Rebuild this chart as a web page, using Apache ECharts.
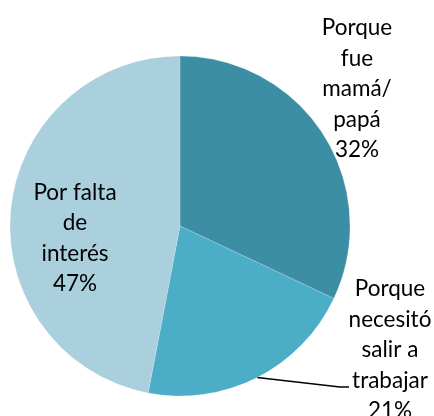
<!DOCTYPE html>
<html>
<head>
<meta charset="utf-8">
<script src="https://cdn.jsdelivr.net/npm/echarts@6/dist/echarts.min.js"></script>
<style>
  html, body { margin: 0; padding: 0; background: #fff; }
  #chart { width: 434px; height: 416px; }
</style>
</head>
<body>
<div id="chart"></div>
<script>
// motivos y porcentajes, en el orden de las agujas del reloj desde arriba
const categories = ['Porque\nfue\nmamá/\npapá', 'Porque\nnecesitó\nsalir a\ntrabajar', 'Por falta\nde\ninterés']
const values = [32, 21, 47]
const colors = ['#3C8EA5', '#4BADC6', '#AACFDD']

// donde va cada etiqueta (centro del bloque de texto)
const labelSpots = [
    { x: 357, y: 89 },
    { x: 390, y: 350 },
    { x: 75, y: 238 }
]

const chart = echarts.init(document.getElementById('chart'))

chart.setOption({
    animation: false,
    series: [{
        type: 'pie',
        center: [180, 226],
        radius: 170,
        startAngle: 90,
        clockwise: true,
        data: categories.map((name, i) => ({
            name: name,
            value: values[i],
            itemStyle: { color: colors[i] },
            label: { position: i === 2 ? 'inside' : 'outside' },
            labelLine: { show: i === 1 }
        })),
        itemStyle: {
            borderColor: 'rgba(255,255,255,0.35)',
            borderWidth: 0.5
        },
        label: {
            formatter: '{b}\n{d}%',
            color: '#000',
            fontFamily: 'Lato',
            fontSize: 22.5,
            lineHeight: 30.5,
            align: 'center',
            overflow: 'none',
            width: 120
        },
        labelLine: {
            lineStyle: { color: '#000', width: 1.5 }
        },
        labelLayout: function (params) {
            const spot = labelSpots[params.dataIndex]
            const out = {
                x: spot.x,
                y: spot.y,
                align: 'center',
                verticalAlign: 'middle'
            }
            if (params.dataIndex === 1 && params.labelLinePoints) {
                const start = params.labelLinePoints[0]
                out.labelLinePoints = [start, [340, 387], [349, 387]]
            }
            return out
        }
    }]
})
</script>
</body>
</html>
